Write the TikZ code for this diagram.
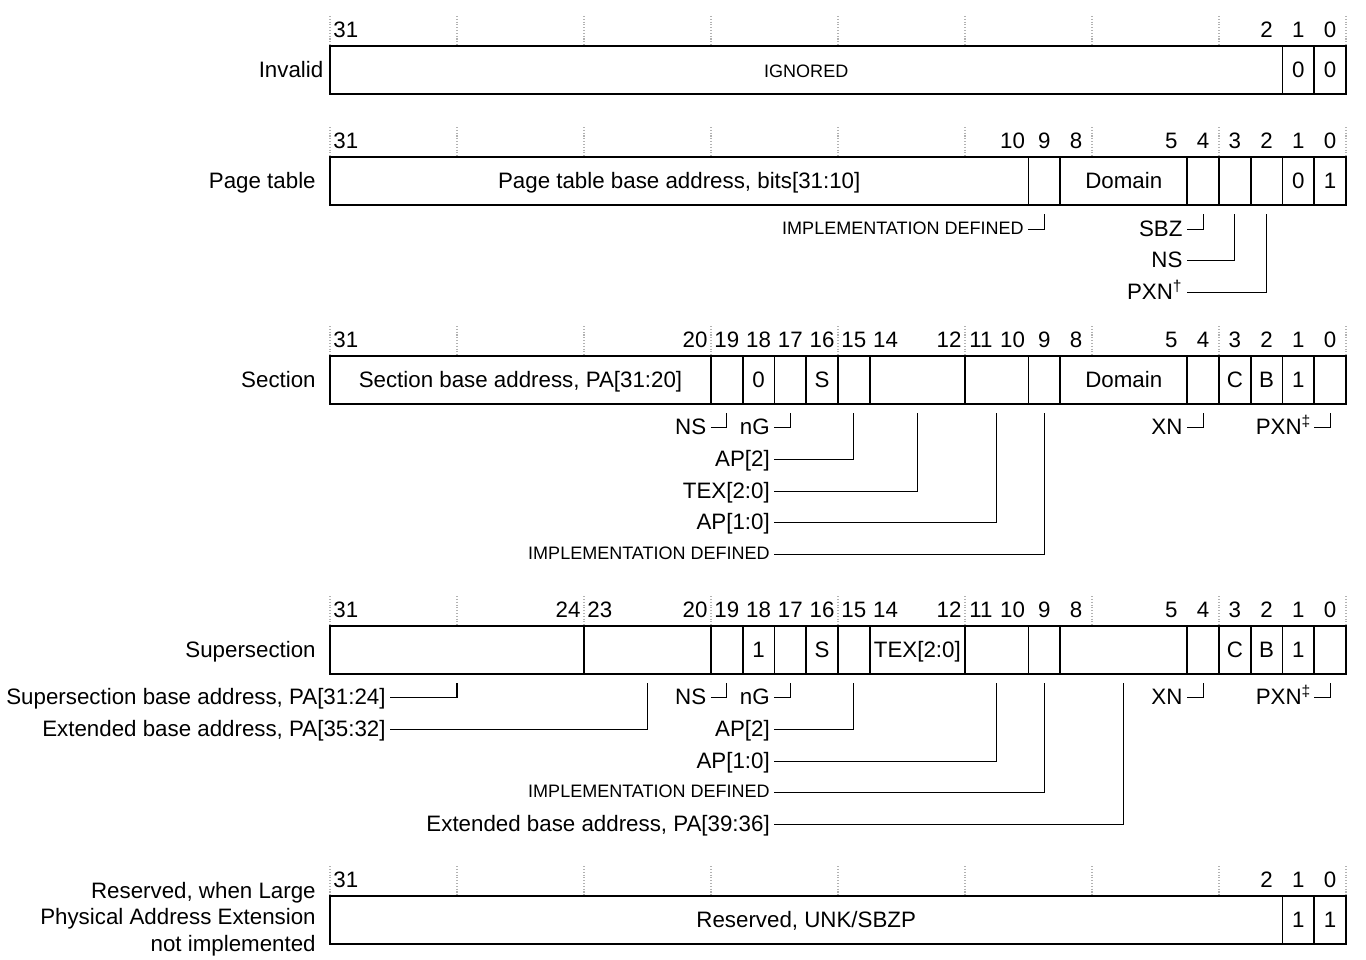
\documentclass[tikz,border=0pt]{standalone}
\usepackage{fontspec}
\setmainfont{Liberation Sans}
\newcommand\regfont{\fontsize{12.7}{15.3}\selectfont}
\newcommand\capsfont{\fontsize{10.25}{12}\selectfont}
\tikzset{
  fieldbox/.style={draw, line width=1.1pt, minimum height=0.96cm, inner sep=0pt,
    font=\regfont, text height=8pt, text depth=0pt},
  bitno/.style={font=\regfont, inner sep=0pt, text height=8pt, text depth=0pt},
  rowname/.style={anchor=east, font=\regfont, inner sep=0pt, text height=8pt, text depth=0pt},
  lbl/.style={anchor=east, font=\regfont, inner xsep=2.5pt, inner ysep=0pt,
    text height=8pt, text depth=0pt},
  capslbl/.style={lbl, font=\capsfont, text height=6.3pt},
  conn/.style={line width=0.6pt, shorten >=4.5pt},
  bittick/.style={densely dotted, gray!60, line width=0.6pt}
}
% field: name, high bit, low bit, y, text
\newcommand\fld[5]{%
  \pgfmathsetmacro\fldw{(#2-#3+1)*0.635}%
  \pgfmathsetmacro\fldx{(#2+#3+1)/2}%
  \node[fieldbox, minimum width=\fldw cm] (#1) at (\fldx,#4) {#5};}
% bit numbers: prefix, y, list
\newcommand\bitnums[3]{%
  \foreach \b in {#3} \node[bitno] (#1\b) at (\b+0.5,#2) {\b};}

\begin{document}
\begin{tikzpicture}[x=-0.635cm, y=-0.02cm]
    \useasboundingbox (-0.630,0) rectangle (42.394,959);

    % dotted ticks every 4 bits
    \foreach \r in {46,157,356,626,896}
      \foreach \t in {0,4,...,32}
        \draw[bittick] (\t,\r-30) -- (\t,\r);

    % Invalid
    \node[rowname] (inv-name) at (32.2,70) {Invalid};
    \bitnums{inv-n}{30}{31,2,1,0}
    \fld{inv-ign}{31}{2}{70}{\capsfont IGNORED}
    \fld{inv-b1}{1}{1}{70}{0}
    \fld{inv-b0}{0}{0}{70}{0}

    % Page table
    \node[rowname] (pt-name) at (32.44,181) {Page table};
    \bitnums{pt-n}{141}{31,10,9,8,5,4,3,2,1,0}
    \fld{pt-base}{31}{10}{181}{Page table base address, bits[31:10]}
    \fld{pt-b9}{9}{9}{181}{}
    \fld{pt-dom}{8}{5}{181}{Domain}
    \fld{pt-b4}{4}{4}{181}{}
    \fld{pt-b3}{3}{3}{181}{}
    \fld{pt-b2}{2}{2}{181}{}
    \fld{pt-b1}{1}{1}{181}{0}
    \fld{pt-b0}{0}{0}{181}{1}
    \node[capslbl] (pt-impl) at (10,229) {IMPLEMENTATION DEFINED};
    \node[lbl] (pt-sbz) at (5,229) {SBZ};
    \node[lbl] (pt-ns) at (5,260) {NS};
    \node[lbl] (pt-pxn) at (5,292) {PXN\textsuperscript{\textdagger}};
    \draw[conn] (pt-impl.east) -| (pt-b9.south);
    \draw[conn] (pt-sbz.east) -| (pt-b4.south);
    \draw[conn] (pt-ns.east) -| (pt-b3.south);
    \draw[conn] (pt-pxn.east) -| (pt-b2.south);

    % Section
    \node[rowname] (sec-name) at (32.44,380) {Section};
    \bitnums{sec-n}{340}{31,20,19,18,17,16,15,14,12,11,10,9,8,5,4,3,2,1,0}
    \fld{sec-base}{31}{20}{380}{Section base address, PA[31:20]}
    \fld{sec-b19}{19}{19}{380}{}
    \fld{sec-b18}{18}{18}{380}{0}
    \fld{sec-b17}{17}{17}{380}{}
    \fld{sec-b16}{16}{16}{380}{S}
    \fld{sec-b15}{15}{15}{380}{}
    \fld{sec-tex}{14}{12}{380}{}
    \fld{sec-ap}{11}{10}{380}{}
    \fld{sec-b9}{9}{9}{380}{}
    \fld{sec-dom}{8}{5}{380}{Domain}
    \fld{sec-b4}{4}{4}{380}{}
    \fld{sec-b3}{3}{3}{380}{C}
    \fld{sec-b2}{2}{2}{380}{B}
    \fld{sec-b1}{1}{1}{380}{1}
    \fld{sec-b0}{0}{0}{380}{}
    \node[lbl] (sec-ns) at (20,427) {NS};
    \node[lbl] (sec-ng) at (18,427) {nG};
    \node[lbl] (sec-ap2) at (18,459) {AP[2]};
    \node[lbl] (sec-texl) at (18,491) {TEX[2:0]};
    \node[lbl] (sec-apl) at (18,522) {AP[1:0]};
    \node[capslbl] (sec-impl) at (18,554) {IMPLEMENTATION DEFINED};
    \node[lbl] (sec-xn) at (5,427) {XN};
    \node[lbl, inner xsep=1.5pt] (sec-pxn) at (1,427) {PXN\textsuperscript{\textdaggerdbl}};
    \draw[conn] (sec-ns.east) -| (sec-b19.south);
    \draw[conn] (sec-ng.east) -| (sec-b17.south);
    \draw[conn] (sec-ap2.east) -| (sec-b15.south);
    \draw[conn] (sec-texl.east) -| (sec-tex.south);
    \draw[conn] (sec-apl.east) -| (sec-ap.south);
    \draw[conn] (sec-impl.east) -| (sec-b9.south);
    \draw[conn] (sec-xn.east) -| (sec-b4.south);
    \draw[conn] (sec-pxn.east) -| (sec-b0.south);

    % Supersection
    \node[rowname] (ss-name) at (32.44,650) {Supersection};
    \bitnums{ss-n}{610}{31,24,23,20,19,18,17,16,15,14,12,11,10,9,8,5,4,3,2,1,0}
    \fld{ss-base}{31}{24}{650}{}
    \fld{ss-ext}{23}{20}{650}{}
    \fld{ss-b19}{19}{19}{650}{}
    \fld{ss-b18}{18}{18}{650}{1}
    \fld{ss-b17}{17}{17}{650}{}
    \fld{ss-b16}{16}{16}{650}{S}
    \fld{ss-b15}{15}{15}{650}{}
    \fld{ss-tex}{14}{12}{650}{TEX[2:0]}
    \fld{ss-ap}{11}{10}{650}{}
    \fld{ss-b9}{9}{9}{650}{}
    \fld{ss-xbase}{8}{5}{650}{}
    \fld{ss-b4}{4}{4}{650}{}
    \fld{ss-b3}{3}{3}{650}{C}
    \fld{ss-b2}{2}{2}{650}{B}
    \fld{ss-b1}{1}{1}{650}{1}
    \fld{ss-b0}{0}{0}{650}{}
    \node[lbl] (ss-basel) at (30.1,697) {Supersection base address, PA[31:24]};
    \node[lbl] (ss-extl) at (30.1,729) {Extended base address, PA[35:32]};
    \node[lbl] (ss-ns) at (20,697) {NS};
    \node[lbl] (ss-ng) at (18,697) {nG};
    \node[lbl] (ss-ap2) at (18,729) {AP[2]};
    \node[lbl] (ss-apl) at (18,761) {AP[1:0]};
    \node[capslbl] (ss-impl) at (18,792) {IMPLEMENTATION DEFINED};
    \node[lbl] (ss-xbl) at (18,824) {Extended base address, PA[39:36]};
    \node[lbl] (ss-xn) at (5,697) {XN};
    \node[lbl, inner xsep=1.5pt] (ss-pxn) at (1,697) {PXN\textsuperscript{\textdaggerdbl}};
    \draw[conn] (ss-basel.east) -| (ss-base.south);
    \draw[conn] (ss-extl.east) -| (ss-ext.south);
    \draw[conn] (ss-ns.east) -| (ss-b19.south);
    \draw[conn] (ss-ng.east) -| (ss-b17.south);
    \draw[conn] (ss-ap2.east) -| (ss-b15.south);
    \draw[conn] (ss-apl.east) -| (ss-ap.south);
    \draw[conn] (ss-impl.east) -| (ss-b9.south);
    \draw[conn] (ss-xbl.east) -| (ss-xbase.south);
    \draw[conn] (ss-xn.east) -| (ss-b4.south);
    \draw[conn] (ss-pxn.east) -| (ss-b0.south);

    % Reserved
    \node[anchor=east, font=\regfont, align=right, inner sep=0pt] (res-name) at (32.44,919)
      {Reserved, when Large\\Physical Address Extension\\not implemented};
    \bitnums{res-n}{880}{31,2,1,0}
    \fld{res-body}{31}{2}{920}{Reserved, UNK/SBZP}
    \fld{res-b1}{1}{1}{920}{1}
    \fld{res-b0}{0}{0}{920}{1}
\end{tikzpicture}
\end{document}
